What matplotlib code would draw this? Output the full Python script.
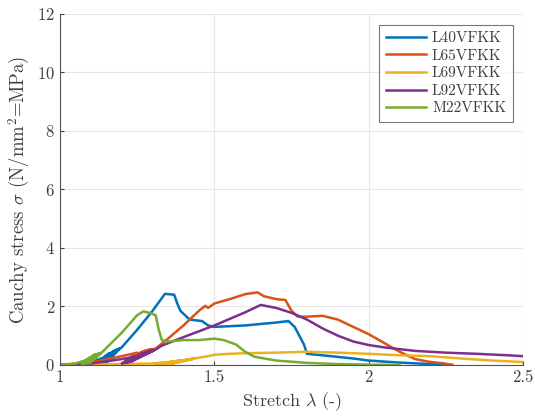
import matplotlib
matplotlib.use('Agg')
import matplotlib.pyplot as plt

plt.rcParams['font.family'] = 'serif'
plt.rcParams['font.serif'] = ['cmr10']
plt.rcParams['mathtext.fontset'] = 'cm'
plt.rcParams['axes.formatter.use_mathtext'] = True

labels = ['L40VFKK', 'L65VFKK', 'L69VFKK', 'L92VFKK', 'M22VFKK']
colors = ['#0072BD', '#D95319', '#EDB120', '#7E2F8E', '#77AC30']

# stretch / stress (loading-unloading cycles included)
l40_x = [1.0, 1.05, 1.1, 1.14, 1.16, 1.12, 1.15, 1.17, 1.125, 1.155, 1.175, 1.13, 1.16, 1.18,
         1.135, 1.165, 1.185, 1.14, 1.17, 1.19, 1.145, 1.175, 1.195, 1.15, 1.18, 1.2,
         1.25, 1.3, 1.34, 1.37, 1.38, 1.39, 1.42, 1.46, 1.48, 1.5, 1.6, 1.7, 1.74,
         1.76, 1.79, 1.8, 1.85, 1.95, 2.0, 2.1, 2.2, 2.27]
l40_y = [0.0, 0.02, 0.08, 0.25, 0.4, 0.04, 0.3, 0.44, 0.05, 0.33, 0.47, 0.05, 0.36, 0.5,
         0.06, 0.39, 0.53, 0.06, 0.42, 0.55, 0.07, 0.45, 0.57, 0.07, 0.48, 0.6,
         1.2, 1.85, 2.43, 2.4, 2.1, 1.85, 1.55, 1.5, 1.35, 1.3, 1.35, 1.45, 1.5,
         1.3, 0.7, 0.38, 0.33, 0.22, 0.15, 0.08, 0.03, 0.0]

l65_x = [1.0, 1.1, 1.2, 1.25, 1.21, 1.26, 1.28, 1.215, 1.265, 1.285, 1.22, 1.27, 1.29,
         1.225, 1.275, 1.295, 1.23, 1.28, 1.3, 1.235, 1.285, 1.305,
         1.31, 1.35, 1.4, 1.45, 1.47, 1.48, 1.5, 1.55, 1.6, 1.64, 1.66, 1.7, 1.73, 1.75, 1.77,
         1.8, 1.85, 1.9, 1.95, 2.0, 2.05, 2.1, 2.15, 2.2, 2.24, 2.27]
l65_y = [0.0, 0.08, 0.3, 0.42, 0.12, 0.42, 0.47, 0.13, 0.44, 0.49, 0.14, 0.46, 0.51,
         0.15, 0.48, 0.52, 0.16, 0.5, 0.53, 0.17, 0.51, 0.55,
         0.56, 0.9, 1.35, 1.85, 2.02, 1.95, 2.1, 2.25, 2.42, 2.48, 2.35, 2.25, 2.22, 1.85, 1.65,
         1.65, 1.68, 1.55, 1.3, 1.05, 0.75, 0.45, 0.2, 0.1, 0.06, 0.0]

l69_x = [1.0, 1.2, 1.3, 1.38, 1.31, 1.385, 1.315, 1.39, 1.32, 1.395, 1.325, 1.4, 1.33, 1.405,
         1.335, 1.41, 1.34, 1.415, 1.345, 1.42, 1.35, 1.425, 1.355, 1.43, 1.36, 1.435, 1.365,
         1.44, 1.48, 1.5, 1.55, 1.6, 1.7, 1.8, 1.9, 2.0, 2.1, 2.2, 2.3, 2.4, 2.5]
l69_y = [0.0, 0.03, 0.05, 0.13, 0.02, 0.14, 0.02, 0.15, 0.03, 0.15, 0.03, 0.16, 0.03, 0.17,
         0.04, 0.17, 0.04, 0.18, 0.04, 0.19, 0.05, 0.2, 0.05, 0.21, 0.05, 0.22, 0.05,
         0.23, 0.3, 0.35, 0.38, 0.4, 0.42, 0.45, 0.42, 0.38, 0.33, 0.3, 0.22, 0.15, 0.1]

l92_x = [1.0, 1.1, 1.2, 1.25, 1.2, 1.255, 1.28, 1.205, 1.26, 1.285, 1.21, 1.265, 1.29,
         1.215, 1.27, 1.295, 1.22, 1.275, 1.3, 1.225, 1.28, 1.305, 1.23, 1.285, 1.31,
         1.33, 1.4, 1.5, 1.6, 1.65, 1.7, 1.75, 1.8, 1.85, 1.9, 1.95, 2.0, 2.05, 2.15,
         2.25, 2.35, 2.45, 2.5]
l92_y = [0.0, 0.05, 0.2, 0.3, 0.05, 0.34, 0.4, 0.06, 0.36, 0.42, 0.07, 0.38, 0.44,
         0.08, 0.4, 0.46, 0.09, 0.42, 0.48, 0.1, 0.44, 0.5, 0.11, 0.46, 0.53,
         0.66, 0.95, 1.35, 1.8, 2.05, 1.95, 1.78, 1.55, 1.25, 1.0, 0.8, 0.68, 0.6, 0.48,
         0.42, 0.38, 0.33, 0.3]

m22_x = [1.0, 1.05, 1.08, 1.11, 1.07, 1.112, 1.075, 1.115, 1.08, 1.12, 1.083, 1.123, 1.086,
         1.126, 1.09, 1.13, 1.093, 1.133, 1.096, 1.136, 1.2, 1.25,
         1.27, 1.29, 1.31, 1.32, 1.33, 1.35, 1.4, 1.45, 1.5, 1.53, 1.57, 1.6, 1.63, 1.7, 1.8,
         1.9, 2.0, 2.1]
m22_y = [0.0, 0.05, 0.15, 0.33, 0.03, 0.35, 0.04, 0.36, 0.05, 0.37, 0.05, 0.38, 0.06,
         0.39, 0.06, 0.4, 0.07, 0.41, 0.07, 0.43, 1.1, 1.7,
         1.83, 1.78, 1.7, 1.2, 0.85, 0.8, 0.85, 0.85, 0.9, 0.85, 0.7, 0.45, 0.28, 0.15, 0.07,
         0.03, 0.01, 0.0]

xs = [l40_x, l65_x, l69_x, l92_x, m22_x]
ys = [l40_y, l65_y, l69_y, l92_y, m22_y]

fig = plt.figure(figsize=(5.35, 4.19), dpi=100)
ax = fig.add_axes([0.112, 0.129, 0.866, 0.838])

for x, y, c, lab in zip(xs, ys, colors, labels):
    ax.plot(x, y, color=c, lw=1.8, label=lab)

ax.set_xlim(1, 2.5)
ax.set_ylim(0, 12)
ax.set_xticks([1, 1.5, 2, 2.5])
ax.set_xticklabels(['1', '1.5', '2', '2.5'])
ax.set_yticks([0, 2, 4, 6, 8, 10, 12])
ax.grid(True, color='#e6e6e6', lw=0.8)
ax.set_axisbelow(True)
for s in ['top', 'right']:
    ax.spines[s].set_visible(False)
for s in ['left', 'bottom']:
    ax.spines[s].set_color('#555555')
ax.tick_params(direction='in', length=3, colors='#404040', labelsize=12)

ax.set_xlabel(r'Stretch $\lambda$ (-)', fontsize=13, color='#404040')
ax.set_ylabel(r'Cauchy stress $\sigma$ (N/mm$^2$=MPa)', fontsize=13.5, color='#404040')

leg = ax.legend(loc='upper right', bbox_to_anchor=(0.978, 0.969), borderaxespad=0,
                fontsize=11, fancybox=False, edgecolor='#555555', handlelength=2.6,
                borderpad=0.45, labelspacing=0.25, handletextpad=0.4)
leg.get_frame().set_linewidth(0.8)
for t in leg.get_texts():
    t.set_color('#404040')

fig.savefig('out.png', dpi=100)
